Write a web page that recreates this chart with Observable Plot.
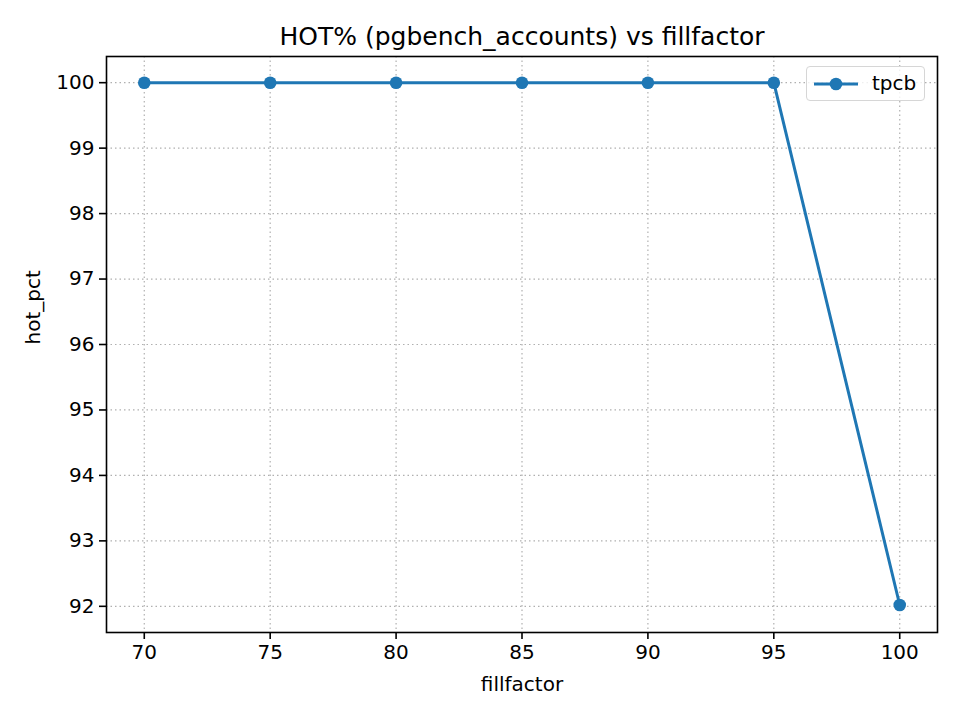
<!DOCTYPE html>
<html>
<head>
<meta charset="utf-8">
<script src="https://cdn.jsdelivr.net/npm/d3@7"></script>
<script src="https://cdn.jsdelivr.net/npm/@observablehq/plot@0.6"></script>
<style>
  body { margin: 0; background: #fff; }
  #wrap { position: relative; width: 960px; height: 720px; font-family: "DejaVu Sans", sans-serif; }
  #legend { position: absolute; left: 806px; top: 66px; width: 119px; height: 35px; border: 1.5px solid #d6d6d6; border-radius: 4px; background: rgba(255,255,255,0.8); box-sizing: border-box; }
  #legend svg { position: absolute; left: 0; top: 0; }
  #legend span { position: absolute; left: 65px; top: 4px; font-size: 20px; color: #000; }
</style>
</head>
<body>
<div id="wrap"></div>
<script>
const fillfactor = [70, 75, 80, 85, 90, 95, 100];
const hotPct = [100, 100, 100, 100, 100, 100, 92.02];
const xTicks = [70, 75, 80, 85, 90, 95, 100];
const yTicks = [92, 93, 94, 95, 96, 97, 98, 99, 100];
const seriesName = "tpcb";
const titleText = "HOT% (pgbench_accounts) vs fillfactor";
const xLabel = "fillfactor";
const yLabel = "hot_pct";

const data = fillfactor.map((f, i) => ({fillfactor: f, hot_pct: hotPct[i]}));
const color = "#1f77b4";

const chart = Plot.plot({
  width: 960,
  height: 720,
  marginLeft: 106,
  marginRight: 23,
  marginTop: 56,
  marginBottom: 88,
  style: {fontFamily: "DejaVu Sans, sans-serif", fontSize: "20px", color: "#000", background: "#fff"},
  x: {domain: [68.5, 101.5], ticks: xTicks, tickFormat: d => String(d), label: null},
  y: {domain: [91.6, 100.4], ticks: yTicks, tickFormat: d => String(d), label: null},
  marks: [
    Plot.gridX(xTicks, {stroke: "#b0b0b0", strokeOpacity: 1, strokeWidth: 1.2, strokeDasharray: "1.5,3"}),
    Plot.gridY(yTicks, {stroke: "#b0b0b0", strokeOpacity: 1, strokeWidth: 1.2, strokeDasharray: "1.5,3"}),
    Plot.axisX(xTicks, {tickSize: 7, tickPadding: 5, tickFormat: d => String(d), fontSize: 20, strokeWidth: 1.6, label: null}),
    Plot.axisY(yTicks, {tickSize: 7, tickPadding: 5, tickFormat: d => String(d), fontSize: 20, strokeWidth: 1.6, label: null}),
    Plot.frame({stroke: "#000", strokeWidth: 1.6}),
    Plot.line(data, {x: "fillfactor", y: "hot_pct", stroke: color, strokeWidth: 3}),
    Plot.dot(data, {x: "fillfactor", y: "hot_pct", fill: color, r: 6.3, stroke: null}),
    Plot.text([titleText], {frameAnchor: "top", lineAnchor: "middle", dy: -20, fontSize: 25, text: d => d, fill: "#000"}),
    Plot.text([xLabel], {frameAnchor: "bottom", lineAnchor: "middle", dy: 52, fontSize: 20, text: d => d, fill: "#000"}),
    Plot.text([yLabel], {frameAnchor: "left", dx: -73, rotate: -90, fontSize: 20, text: d => d, fill: "#000"})
  ]
});

const wrap = document.getElementById("wrap");
wrap.appendChild(chart);

const legend = document.createElement("div");
legend.id = "legend";
legend.innerHTML = `<svg width="119" height="35"><line x1="7" y1="17" x2="51" y2="17" stroke="${color}" stroke-width="3"/><circle cx="29" cy="17" r="6.3" fill="${color}"/></svg><span>${seriesName}</span>`;
wrap.appendChild(legend);
</script>
</body>
</html>
